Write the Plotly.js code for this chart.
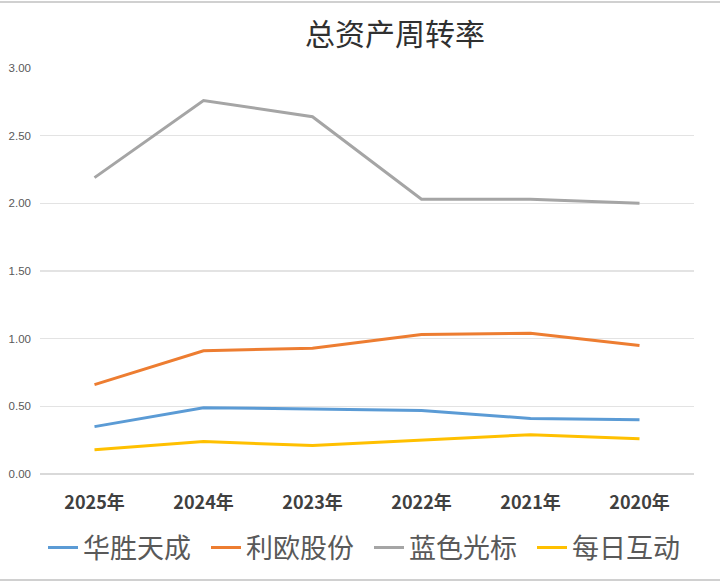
<!DOCTYPE html>
<html><head><meta charset="utf-8">
<script src="https://cdn.plot.ly/plotly-3.0.1.min.js"></script>
<style>html,body{margin:0;padding:0;background:#fff}#c{width:720px;height:584px}</style>
</head><body><div id="c"></div>
<script>
const categories = ["2025年","2024年","2023年","2022年","2021年","2020年"];
const huasheng = [0.35,0.49,0.48,0.47,0.41,0.40];
const liou = [0.66,0.91,0.93,1.03,1.04,0.95];
const lanse = [2.19,2.76,2.64,2.03,2.03,2.00];
const meiri = [0.18,0.24,0.21,0.25,0.29,0.26];
const seriesNames = ["华胜天成","利欧股份","蓝色光标","每日互动"];
const colors = ["#5B9BD5","#ED7D31","#A5A5A5","#FFC000"];
const yTicks = [0,0.5,1,1.5,2,2.5,3];
const yTickText = ["0.00","0.50","1.00","1.50","2.00","2.50","3.00"];

const vals = [huasheng, liou, lanse, meiri];
const traces = vals.map((v,i)=>({
  type:'scatter', mode:'lines', x:categories, y:v, name:seriesNames[i],
  line:{color:colors[i], width:3}
}));
const font = "'Noto Sans CJK SC', 'Noto Sans', sans-serif";
Plotly.newPlot('c', traces, {
  width:720, height:584,
  margin:{l:40, r:26, t:68, b:110},
  paper_bgcolor:'#fff', plot_bgcolor:'#fff',
  title:{text:'总资产周转率', x:395/720, xanchor:'center', xref:'container', y:1-34/584, yanchor:'middle', yref:'container',
    font:{family:font, size:30, color:'#303030'}},
  xaxis:{type:'category', range:[-0.5,5.5], showgrid:false, zeroline:false, showline:false, ticks:'',
    tickfont:{family:font, size:18, color:'#404040', weight:'bold'}, ticklabelstandoff:16},
  yaxis:{range:[0,3], tickvals:yTicks, ticktext:yTickText, showgrid:true, gridcolor:'#E3E3E3', gridwidth:1.3,
    zeroline:true, zerolinecolor:'#D9D9D9', zerolinewidth:1.3, showline:false, ticks:'',
    tickfont:{family:"'Liberation Sans', sans-serif", size:11.5, color:'#595959'}, ticklabelstandoff:8},
  showlegend:true,
  legend:{orientation:'h', xref:'container', yref:'container', x:369/720, xanchor:'center', y:36/584, yanchor:'middle',
    font:{family:font, size:27, color:'#595959'}, itemwidth:30, tracegroupgap:0, entrywidth:118, entrywidthmode:'pixels'},
  shapes:[
    {type:'line', xref:'paper', yref:'paper', x0:-40/654, x1:1+26/654, y0:1+66/406, y1:1+66/406, line:{color:'#D0D0D0', width:2}},
    {type:'line', xref:'paper', yref:'paper', x0:-40/654, x1:1+26/654, y0:-106/406, y1:-106/406, line:{color:'#D0D0D0', width:2}}
  ]
}, {staticPlot:true});
</script></body></html>
